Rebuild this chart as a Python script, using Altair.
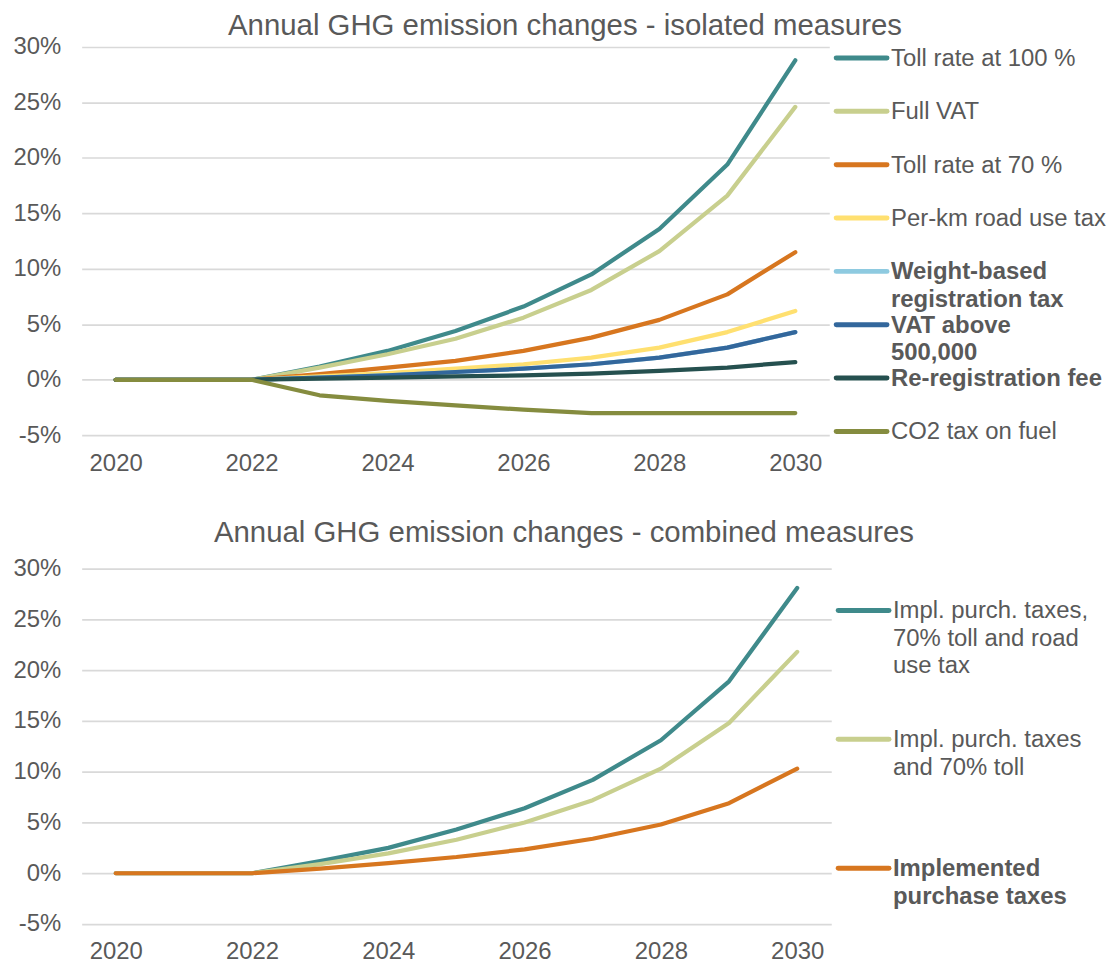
import altair as alt
import pandas as pd

FONT = "Liberation Sans"
TXT = "#595959"

years = list(range(2020, 2031))
x_ticks = [2020, 2022, 2024, 2026, 2028, 2030]
y_ticks = [-5, 0, 5, 10, 15, 20, 25, 30]

# ---- isolated measures ----
iso_names = ["Toll rate at 100 %", "Full VAT", "Toll rate at 70 %", "Per-km road use tax",
             "Weight-based registration tax", "VAT above 500,000", "Re-registration fee",
             "CO2 tax on fuel"]
iso_labels = ["Toll rate at 100 %", "Full VAT", "Toll rate at 70 %", "Per-km road use tax",
              "Weight-based|registration tax", "VAT above|500,000", "Re-registration fee",
              "CO2 tax on fuel"]
iso_bold = [False, False, False, False, True, True, True, False]
iso_colors = ["#3f8a8b", "#c8cf8e", "#d7761f", "#ffe070", "#8ecae0", "#33679c", "#25504f", "#858c3f"]

toll100 = [0, 0, 0, 1.2, 2.6, 4.4, 6.6, 9.5, 13.6, 19.4, 28.8]
full_vat = [0, 0, 0, 1.1, 2.3, 3.7, 5.6, 8.1, 11.6, 16.6, 24.6]
toll70 = [0, 0, 0, 0.5, 1.1, 1.7, 2.6, 3.8, 5.4, 7.7, 11.5]
per_km = [0, 0, 0, 0.3, 0.6, 1.0, 1.4, 2.0, 2.9, 4.3, 6.2]
weight_based = [0, 0, 0, 0.2, 0.4, 0.7, 1.0, 1.4, 2.0, 2.9, 4.3]
vat_above = [0, 0, 0, 0.2, 0.4, 0.7, 1.0, 1.4, 2.0, 2.9, 4.3]
rereg = [0, 0, 0, 0.1, 0.2, 0.3, 0.4, 0.55, 0.8, 1.1, 1.6]
co2 = [0, 0, 0, -1.4, -1.9, -2.3, -2.7, -3.0, -3.0, -3.0, -3.0]
iso_series = [toll100, full_vat, toll70, per_km, weight_based, vat_above, rereg, co2]

# ---- combined measures ----
comb_names = ["Impl. purch. taxes, 70% toll and road use tax",
              "Impl. purch. taxes and 70% toll",
              "Implemented purchase taxes"]
comb_labels = ["Impl. purch. taxes,|70% toll and road|use tax",
               "Impl. purch. taxes|and 70% toll",
               "Implemented|purchase taxes"]
comb_bold = [False, False, True]
comb_colors = ["#3f8a8b", "#c8cf8e", "#d7761f"]

comb_full = [0, 0, 0, 1.2, 2.5, 4.3, 6.4, 9.2, 13.1, 18.9, 28.1]
comb_toll = [0, 0, 0, 0.9, 1.95, 3.3, 5.0, 7.2, 10.3, 14.8, 21.8]
comb_impl = [0, 0, 0, 0.45, 1.0, 1.6, 2.35, 3.4, 4.8, 6.9, 10.3]
comb_series = [comb_full, comb_toll, comb_impl]


def panel(title, names, labels, bold, colors, series, width, height,
          leg_top, leg_step, title_offset, title_dx):
    rows = []
    for i, (n, vals) in enumerate(zip(names, series)):
        for yr, v in zip(years, vals):
            rows.append({"series": n, "order": i, "year": yr, "value": v})
    df = pd.DataFrame(rows)

    color = alt.Color("series:N", scale=alt.Scale(domain=names, range=colors), legend=None)

    lines = alt.Chart(df).mark_line(strokeWidth=4.25, strokeCap="round", strokeJoin="round").encode(
        x=alt.X("year:Q",
                scale=alt.Scale(domain=[2019.5, 2030.5], nice=False, zero=False),
                axis=alt.Axis(values=x_ticks, format="d", grid=False, domain=False,
                              ticks=False, tickSize=0, labelPadding=16, title=None)),
        y=alt.Y("value:Q",
                scale=alt.Scale(domain=[-5, 30], nice=False, zero=False),
                axis=alt.Axis(values=y_ticks, labelExpr="datum.value + '%'", domain=False,
                              ticks=False, tickSize=0, labelPadding=21, title=None)),
        color=color,
    )

    leg_df = pd.DataFrame({"series": names, "label": labels, "bold": bold,
                           "idx": list(range(len(names)))})
    base = alt.Chart(leg_df).transform_calculate(ly=f"{leg_top} + datum.idx * {leg_step}")
    ly = alt.Y("ly:Q", scale=None, axis=None)

    swatch = base.mark_rule(strokeWidth=5, strokeCap="round").encode(
        x=alt.value(width + 7), x2=alt.value(width + 58), y=ly, color=color)
    txt_norm = base.transform_filter("!datum.bold").mark_text(
        align="left", baseline="top", font=FONT, fontSize=24, color=TXT,
        lineBreak="|", lineHeight=27.5, dy=-11).encode(
        x=alt.value(width + 62), y=ly, text="label:N")
    txt_bold = base.transform_filter("datum.bold").mark_text(
        align="left", baseline="top", font=FONT, fontSize=24, color=TXT, fontWeight="bold",
        lineBreak="|", lineHeight=27.5, dy=-11).encode(
        x=alt.value(width + 62), y=ly, text="label:N")

    return alt.layer(lines, swatch, txt_norm, txt_bold).resolve_scale(y="independent").properties(
        width=width, height=height,
        title=alt.TitleParams(title, anchor="middle", dx=title_dx, offset=title_offset),
    )


top = panel("Annual GHG emission changes - isolated measures", iso_names, iso_labels, iso_bold,
            iso_colors, iso_series, 751, 390, 11, 53.6, -6, 110)
bottom = panel("Annual GHG emission changes - combined measures", comb_names, comb_labels, comb_bold,
               comb_colors, comb_series, 753, 357, 42, 129.5, 8, 108)

chart = alt.vconcat(top, bottom, spacing=43).properties(
    padding={"left": 4, "top": 0, "right": 0, "bottom": 0}
).configure_axis(
    labelFont=FONT, labelFontSize=24, labelColor=TXT,
    gridColor="#d9d9d9", gridWidth=1.75,
).configure_view(stroke=None).configure_title(
    font=FONT, fontSize=29.5, color=TXT, fontWeight="normal"
)

chart.save("out.html", embed_options={"renderer": "svg", "actions": False})
